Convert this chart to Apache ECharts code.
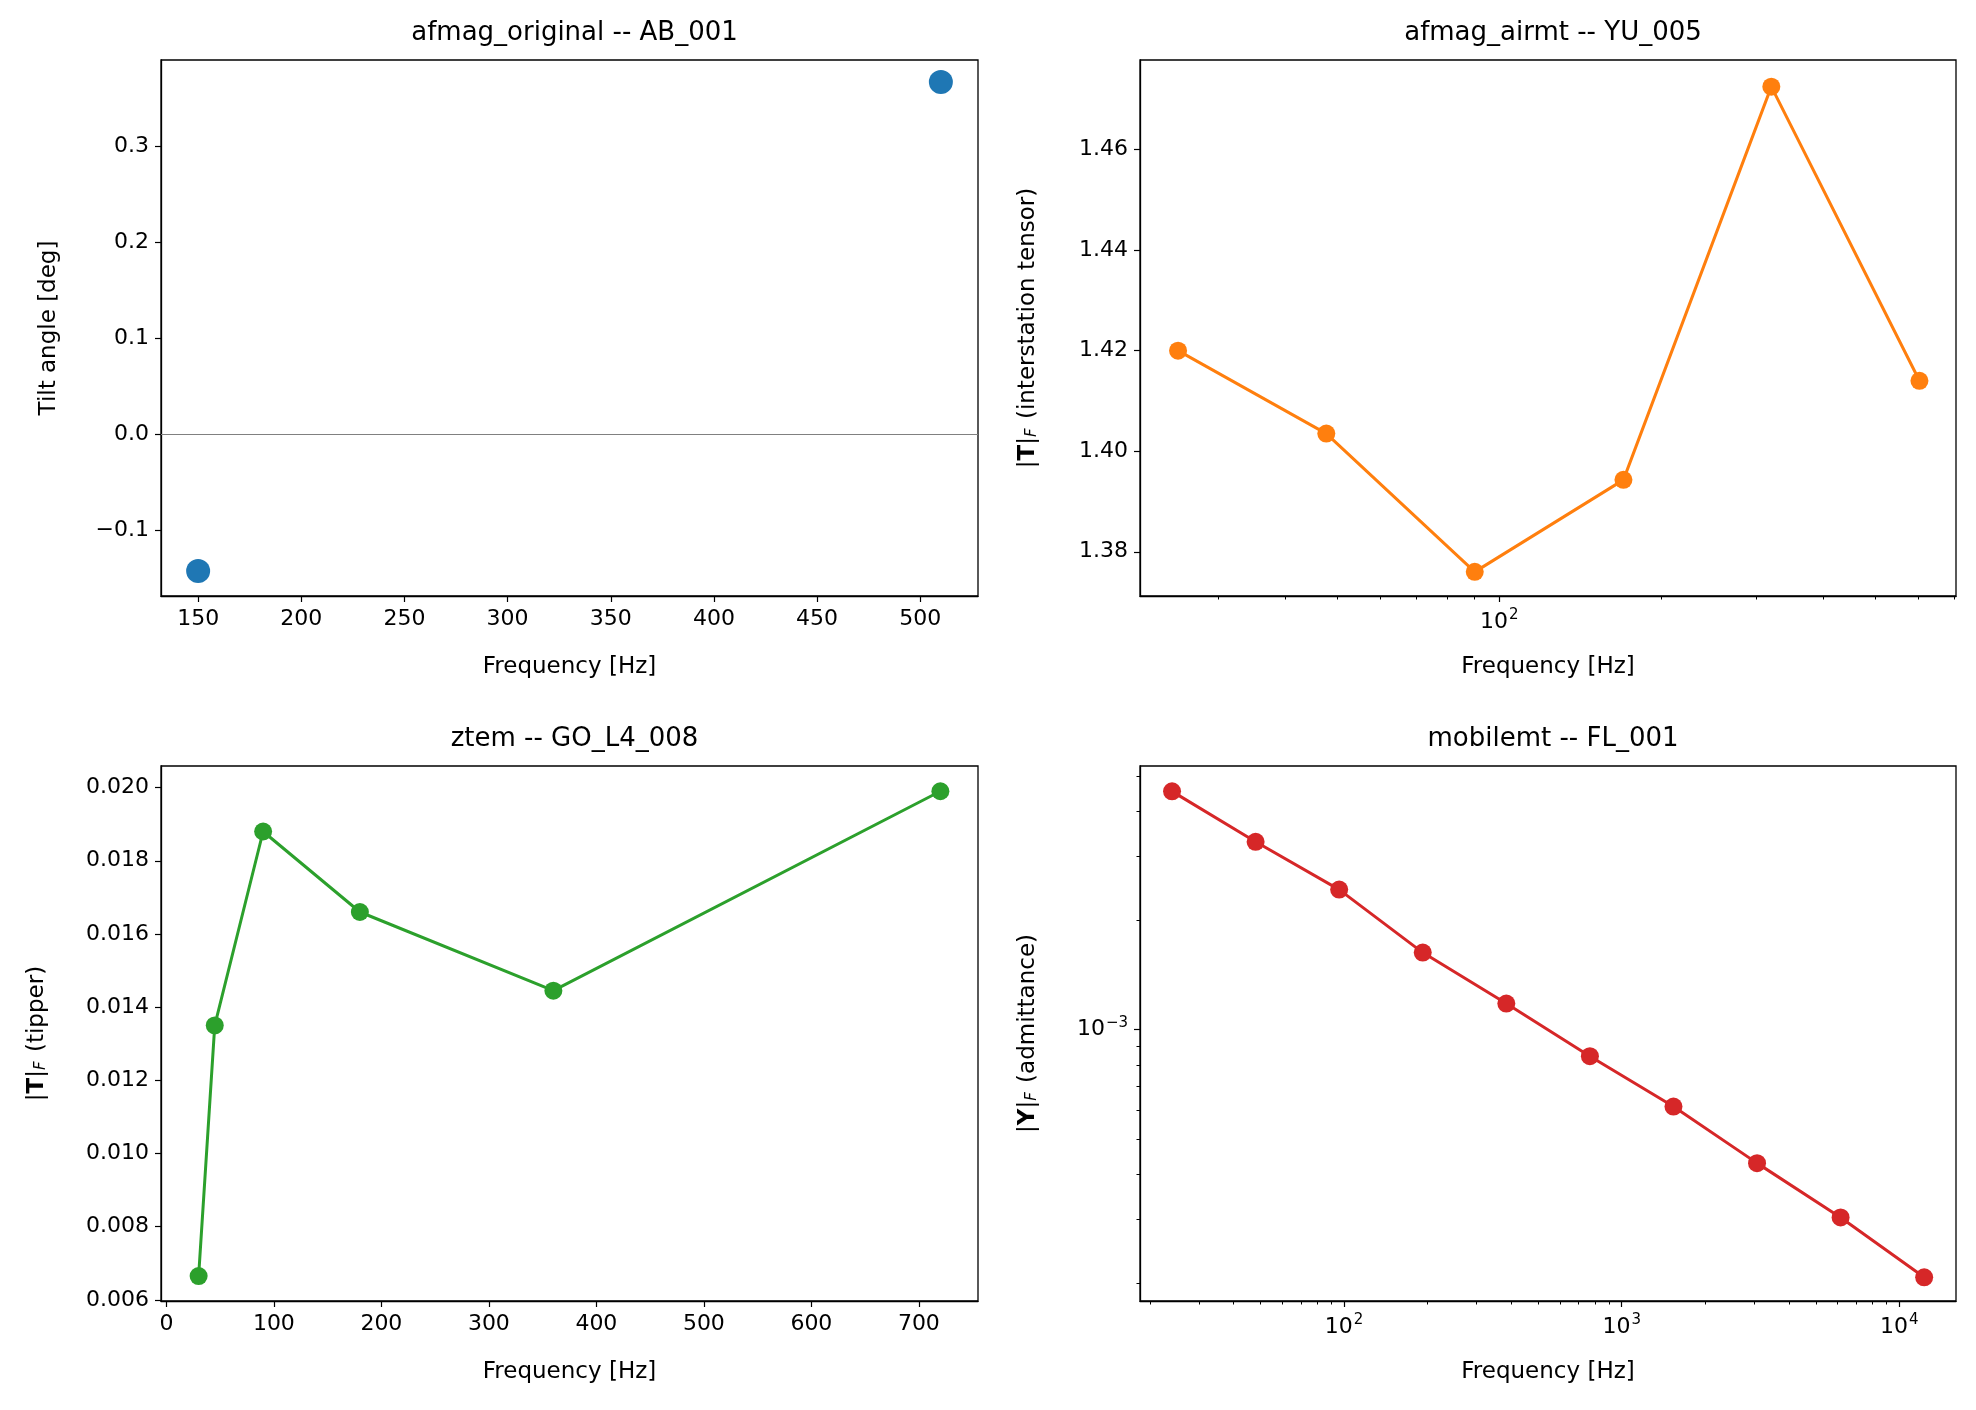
<!DOCTYPE html>
<html>
<head>
  <meta charset="UTF-8">
  <title>Tipper panels</title>
  <script src="https://cdn.jsdelivr.net/npm/echarts@6/dist/echarts.min.js"></script>
  <style>
  body { margin: 0; background: #ffffff; }
  #main { width: 1976px; height: 1410px; }
  </style>
</head>
<body>
  <div id="main"></div>
  <script>
    // afmag_original -- AB_001
    var afmagFreq = [150, 510]
    var afmagTilt = [-0.142, 0.367]
    // afmag_airmt -- YU_005
    var airmtFreq = [25.3, 47.7, 90, 170, 320, 603]
    var airmtNorm = [1.420, 1.4035, 1.376, 1.3943, 1.4725, 1.414]
    // ztem -- GO_L4_008
    var ztemFreq = [30, 45, 90, 180, 360, 720]
    var ztemNorm = [0.00665, 0.0135, 0.0188, 0.0166, 0.01445, 0.0199]
    // mobilemt -- FL_001
    var mobileFreq = [24, 48, 96, 192, 384, 768, 1536, 3072, 6144, 12288]
    var mobileNorm = [4.53e-3, 3.29e-3, 2.43e-3, 1.63e-3, 1.18e-3, 8.45e-4, 6.14e-4, 4.29e-4, 3.04e-4, 2.08e-4]

    var ticksAfmagX = [150, 200, 250, 300, 350, 400, 450, 500]
    var ticksAfmagY = [-0.1, 0.0, 0.1, 0.2, 0.3]
    var ticksAirmtY = [1.38, 1.40, 1.42, 1.44, 1.46]
    var ticksZtemX = [0, 100, 200, 300, 400, 500, 600, 700]
    var ticksZtemY = [0.006, 0.008, 0.010, 0.012, 0.014, 0.016, 0.018, 0.020]
    var majorAirmtX = [100]
    var minorAirmtX = [30, 40, 50, 60, 70, 80, 90, 200, 300, 400, 500, 600, 700]
    var majorMobileX = [100, 1000, 10000]
    var minorMobileX = [20, 30, 40, 50, 60, 70, 80, 90, 200, 300, 400, 500, 600, 700, 800, 900,
      2000, 3000, 4000, 5000, 6000, 7000, 8000, 9000]
    var majorMobileY = [0.001]
    var minorMobileY = [2e-4, 3e-4, 4e-4, 5e-4, 6e-4, 7e-4, 8e-4, 9e-4, 2e-3, 3e-3, 4e-3, 5e-3]

    var chart = echarts.init(document.getElementById('main'), null, {renderer: 'canvas'});
    var FONT = 'DejaVu Sans'
    var TICK = 22
    var sup = {
      b: {fontFamily: FONT, fontSize: TICK, color: '#000'},
      s: {fontFamily: FONT, fontSize: 15, color: '#000', verticalAlign: 'top', padding: [0, 0, 13, 1]}
    }
    function powLabel(v) {
      var e = Math.round(Math.log10(v))
      var t = String(e).replace('-', '\u2212')
      return '{b|10}{s|' + t + '}'
    }
    var grids = [
      {left: 161, top: 60, width: 817, height: 536},
      {left: 1140, top: 60, width: 816, height: 536},
      {left: 161, top: 766, width: 817, height: 535},
      {left: 1140, top: 766, width: 816, height: 535}
    ]
    grids.forEach(function (g) { g.show = true; g.borderColor = '#000'; g.borderWidth = 1.3; g.backgroundColor = 'transparent' })

    function tickStyle(vals) {
      return {show: true, inside: false, length: 6, customValues: vals, lineStyle: {color: '#000', width: 1.2}}
    }
    function baseAxis(extra) {
      var a = {
        axisLine: {show: true, onZero: false, lineStyle: {color: '#000', width: 1.3}},
        splitLine: {show: false},
        nameLocation: 'middle',
        nameTextStyle: {fontFamily: FONT, fontSize: 23, color: '#000'}
      }
      for (var k in extra) a[k] = extra[k]
      return a
    }
    function plainLabels(vals, fmt) {
      return {fontFamily: FONT, fontSize: TICK, color: '#000', margin: 12, customValues: vals, formatter: fmt}
    }
    function powLabels(vals) {
      return {customValues: vals, formatter: powLabel, rich: sup, margin: 12}
    }
    function minorAxis(gridIndex, type, min, max, vals, isY) {
      return {
        gridIndex: gridIndex, type: type, min: min, max: max, position: isY ? 'left' : 'bottom',
        axisLine: {show: false},
        axisTick: {show: true, length: 3.5, customValues: vals, lineStyle: {color: '#000', width: 1}},
        axisLabel: {show: false}, splitLine: {show: false}
      }
    }
    var xAxes = [
      baseAxis({gridIndex: 0, type: 'value', min: 132, max: 528, name: 'Frequency [Hz]', nameGap: 60,
        axisTick: tickStyle(ticksAfmagX), axisLabel: plainLabels(ticksAfmagX)}),
      baseAxis({gridIndex: 1, type: 'log', min: 21.5, max: 705, name: 'Frequency [Hz]', nameGap: 60,
        axisTick: tickStyle(majorAirmtX), axisLabel: powLabels(majorAirmtX)}),
      baseAxis({gridIndex: 2, type: 'value', min: -5, max: 755, name: 'Frequency [Hz]', nameGap: 60,
        axisTick: tickStyle(ticksZtemX), axisLabel: plainLabels(ticksZtemX)}),
      baseAxis({gridIndex: 3, type: 'log', min: 18.4, max: 16000, name: 'Frequency [Hz]', nameGap: 60,
        axisTick: tickStyle(majorMobileX), axisLabel: powLabels(majorMobileX)}),
      minorAxis(1, 'log', 21.5, 705, minorAirmtX, false),
      minorAxis(3, 'log', 18.4, 16000, minorMobileX, false)
    ]
    var nameRich = {
      n: {fontFamily: FONT, fontSize: 23, color: '#000'},
      bo: {fontFamily: FONT, fontSize: 23, color: '#000', fontWeight: 'bold'},
      sub: {fontFamily: FONT, fontSize: 15, color: '#000', fontStyle: 'italic', verticalAlign: 'bottom', padding: [9, 2, 0, 0]}
    }
    var yAxes = [
      baseAxis({gridIndex: 0, type: 'value', min: -0.168, max: 0.39, name: 'Tilt angle [deg]', nameGap: 100,
        axisTick: tickStyle(ticksAfmagY),
        axisLabel: plainLabels(ticksAfmagY, function (v) { return v.toFixed(1).replace('-', '\u2212') })}),
      baseAxis({gridIndex: 1, type: 'value', min: 1.3712, max: 1.4778, nameGap: 100,
        name: '{n||}{bo|T}{n||}{sub|F}{n| (interstation tensor)}',
        nameTextStyle: {rich: nameRich},
        axisTick: tickStyle(ticksAirmtY),
        axisLabel: plainLabels(ticksAirmtY, function (v) { return v.toFixed(2) })}),
      baseAxis({gridIndex: 2, type: 'value', min: 0.00597, max: 0.02059, nameGap: 112,
        name: '{n||}{bo|T}{n||}{sub|F}{n| (tipper)}',
        nameTextStyle: {rich: nameRich},
        axisTick: tickStyle(ticksZtemY),
        axisLabel: plainLabels(ticksZtemY, function (v) { return v.toFixed(3) })}),
      baseAxis({gridIndex: 3, type: 'log', min: 1.79e-4, max: 5.32e-3, nameGap: 100,
        name: '{n||}{bo|Y}{n||}{sub|F}{n| (admittance)}',
        nameTextStyle: {rich: nameRich},
        axisTick: tickStyle(majorMobileY), axisLabel: powLabels(majorMobileY)}),
      minorAxis(3, 'log', 1.79e-4, 5.32e-3, minorMobileY, true)
    ]
    function pairs(xs, ys) { return xs.map(function (x, i) { return [x, ys[i]] }) }
    function titleAt(text, g) {
      return {text: text, left: g.left + g.width / 2, top: g.top - 45, textAlign: 'center',
        textStyle: {fontFamily: FONT, fontSize: 26, fontWeight: 'normal', color: '#000'}}
    }
    function lineSeries(i, xs, ys, color) {
      return {type: 'line', xAxisIndex: i, yAxisIndex: i, data: pairs(xs, ys),
        symbol: 'circle', symbolSize: 18, lineStyle: {color: color, width: 3},
        itemStyle: {color: color}}
    }
    chart.setOption({
      animation: false,
      title: [
        titleAt('afmag_original -- AB_001', grids[0]),
        titleAt('afmag_airmt -- YU_005', grids[1]),
        titleAt('ztem -- GO_L4_008', grids[2]),
        titleAt('mobilemt -- FL_001', grids[3])
      ],
      grid: grids,
      xAxis: xAxes,
      yAxis: yAxes,
      series: [
        {type: 'scatter', xAxisIndex: 0, yAxisIndex: 0, data: pairs(afmagFreq, afmagTilt),
          symbolSize: 24, itemStyle: {color: '#1f77b4', opacity: 1},
          markLine: {silent: true, symbol: 'none', label: {show: false},
            lineStyle: {color: '#808080', width: 1.2, type: 'solid'}, data: [{yAxis: 0}]}},
        lineSeries(1, airmtFreq, airmtNorm, '#ff7f0e'),
        lineSeries(2, ztemFreq, ztemNorm, '#2ca02c'),
        lineSeries(3, mobileFreq, mobileNorm, '#d62728')
      ]
    });
  </script>
</body>
</html>
